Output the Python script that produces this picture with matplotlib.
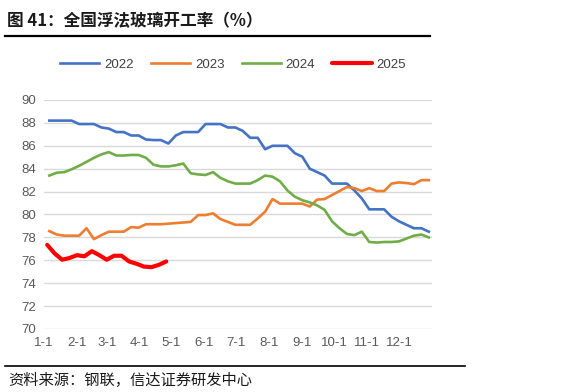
import matplotlib
matplotlib.use("Agg")
import matplotlib.pyplot as plt
import matplotlib.dates as mdates
from matplotlib.lines import Line2D
import pandas as pd

plt.rcParams['font.family'] = ['Liberation Sans', 'Noto Sans CJK SC', 'DejaVu Sans']

# weekly readings, plotted on a common Jan-Dec axis
weeks = pd.date_range("2001-01-06", periods=52, freq="7D")
weeks_2025 = pd.date_range("2001-01-04", periods=17, freq="7D")
month_starts = pd.date_range("2001-01-01", periods=12, freq="MS")

rate_2022 = [88.2, 88.2, 88.2, 88.2, 87.9, 87.9, 87.9, 87.6, 87.5, 87.2,
             87.2, 86.9, 86.9, 86.55, 86.5, 86.5, 86.2, 86.9, 87.2, 87.2,
             87.2, 87.9, 87.9, 87.9, 87.6, 87.6, 87.3, 86.7, 86.7, 85.7,
             86.0, 86.0, 86.0, 85.35, 85.05, 84.0, 83.7, 83.4, 82.7, 82.7,
             82.7, 82.1, 81.4, 80.45, 80.45, 80.45, 79.8, 79.4, 79.1, 78.8,
             78.8, 78.5]
rate_2023 = [78.55, 78.25, 78.15, 78.15, 78.15, 78.8, 77.85, 78.2, 78.5, 78.5,
             78.5, 78.9, 78.85, 79.15, 79.15, 79.15, 79.2, 79.25, 79.3, 79.35,
             79.95, 79.95, 80.1, 79.6, 79.35, 79.1, 79.1, 79.1, 79.65, 80.25,
             81.35, 80.95, 80.95, 80.95, 80.95, 80.7, 81.3, 81.35, 81.7, 82.05,
             82.4, 82.3, 82.05, 82.3, 82.05, 82.05, 82.7, 82.8, 82.75, 82.65,
             83.0, 83.0]
rate_2024 = [83.4, 83.65, 83.7, 83.95, 84.25, 84.6, 84.95, 85.25, 85.45, 85.15,
             85.15, 85.2, 85.2, 84.95, 84.35, 84.2, 84.2, 84.3, 84.45, 83.6,
             83.5, 83.45, 83.7, 83.2, 82.9, 82.7, 82.7, 82.7, 83.0, 83.4,
             83.3, 82.9, 82.1, 81.55, 81.25, 81.05, 80.8, 80.4, 79.4, 78.8,
             78.3, 78.2, 78.5, 77.6, 77.55, 77.6, 77.6, 77.65, 77.9, 78.15,
             78.25, 78.0]
rate_2025 = [77.35, 76.6, 76.05, 76.2, 76.45, 76.35, 76.8, 76.45, 76.05, 76.4,
             76.4, 75.9, 75.7, 75.45, 75.4, 75.6, 75.9]

fig = plt.figure(figsize=(5.66, 3.92), dpi=100)
ax = fig.add_axes([44 / 566, 63 / 392, 388 / 566, 229 / 392])

ax.plot(weeks, rate_2022, color='#4472C4', lw=1.9, label='2022')
ax.plot(weeks, rate_2023, color='#ED7D31', lw=1.9, label='2023')
ax.plot(weeks, rate_2024, color='#70AD47', lw=1.9, label='2024')
ax.plot(weeks_2025, rate_2025, color='#FF0000', lw=3.0, label='2025',
        solid_capstyle='round')

ax.set_ylim(70, 90)
ax.set_yticks(range(70, 91, 2))
ax.set_xlim(pd.Timestamp("2001-01-01"), pd.Timestamp("2002-01-01"))
ax.set_xticks(month_starts)
ax.set_xticklabels(["{0}-{1}".format(d.month, d.day) for d in month_starts])

ax.grid(axis='y', color='#d9d9d9', lw=1.0)
ax.set_axisbelow(True)
for s in ax.spines.values():
    s.set_visible(False)
ax.tick_params(length=0, colors='#595959', labelsize=9.5)
ax.tick_params(axis='y', pad=6)
ax.tick_params(axis='x', pad=6)

fig.legend(loc='center', bbox_to_anchor=(233 / 566, 1 - 65 / 392), ncol=4,
           frameon=False, fontsize=9.5, handlelength=3.0, handletextpad=0.35,
           columnspacing=1.3, labelcolor='#404040')

fig.text(7 / 566, 1 - 21 / 392, "图 41：全国浮法玻璃开工率（%）",
         family=['Noto Sans CJK SC', 'DejaVu Sans'], fontsize=12,
         weight='bold', color='#1a1a1a', va='center', ha='left')
fig.add_artist(Line2D([5 / 566, 430 / 566], [1 - 36 / 392, 1 - 36 / 392],
                      color='black', lw=1.6))
fig.add_artist(Line2D([5 / 566, 465 / 566], [1 - 366 / 392, 1 - 366 / 392],
                      color='black', lw=1.2))
fig.text(8 / 566, 1 - 380 / 392, "资料来源：钢联，信达证券研发中心",
         family=['Noto Sans CJK SC', 'DejaVu Sans'], fontsize=11,
         style='italic', color='#1a1a1a', va='center', ha='left')

fig.savefig("out.png", dpi=100)
